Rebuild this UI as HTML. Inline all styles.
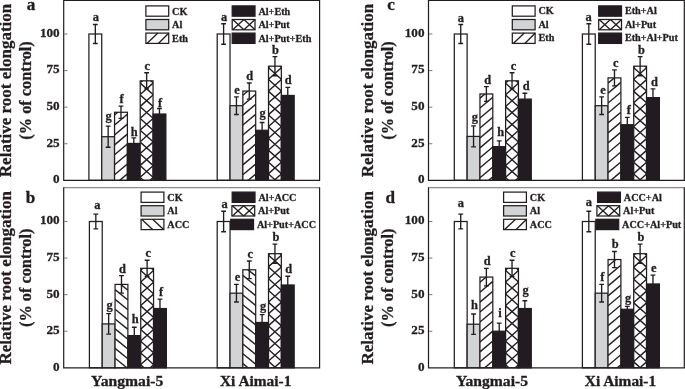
<!DOCTYPE html>
<html lang="en">
<head>
<meta charset="utf-8">
<title>Relative root elongation</title>
<style>
html,body{margin:0;padding:0;background:#fff;}
body{width:685px;height:389px;overflow:hidden;}
svg{display:block;will-change:transform;}
svg text{font-family:"Liberation Serif","DejaVu Serif",serif;font-weight:bold;fill:#231f20;stroke:#231f20;stroke-width:0.3px;}
</style>
</head>
<body>
<svg width="685" height="389" viewBox="0 0 685 389">
<defs><filter id="soft" x="0" y="0" width="685" height="389" filterUnits="userSpaceOnUse"><feGaussianBlur stdDeviation="0.38"/></filter></defs>
<g filter="url(#soft)">
<g id="panel-a">
<rect x="88.9" y="34" width="12.83" height="146.3" fill="#fff" stroke="#231f20" stroke-width="1.25"/>
<rect x="101.73" y="136.7" width="12.83" height="43.6" fill="#d1d3d4" stroke="#231f20" stroke-width="1.25"/>
<clipPath id="c1"><rect x="114.56" y="112.27" width="12.83" height="68.03"/></clipPath>
<rect x="114.56" y="112.27" width="12.83" height="68.03" fill="#fff"/>
<g clip-path="url(#c1)" stroke="#231f20" stroke-width="1.4" fill="none"><path d="M114.56 95.13L127.39 84.35"/><path d="M114.56 105.08L127.39 94.3"/><path d="M114.56 115.03L127.39 104.25"/><path d="M114.56 124.98L127.39 114.2"/><path d="M114.56 134.93L127.39 124.15"/><path d="M114.56 144.88L127.39 134.1"/><path d="M114.56 154.83L127.39 144.05"/><path d="M114.56 164.78L127.39 154"/><path d="M114.56 174.73L127.39 163.95"/><path d="M114.56 184.68L127.39 173.9"/><path d="M114.56 194.63L127.39 183.85"/><path d="M114.56 204.58L127.39 193.8"/><path d="M114.56 214.53L127.39 203.75"/></g>
<rect x="114.56" y="112.27" width="12.83" height="68.03" fill="none" stroke="#231f20" stroke-width="1.25"/>
<rect x="127.39" y="143.43" width="12.83" height="36.87" fill="#231f20" stroke="#231f20" stroke-width="1.25"/>
<clipPath id="c2"><rect x="140.22" y="80.82" width="12.83" height="99.48"/></clipPath>
<rect x="140.22" y="80.82" width="12.83" height="99.48" fill="#fff"/>
<g clip-path="url(#c2)" stroke="#231f20" stroke-width="1.4" fill="none"><path d="M140.22 59.16L153.05 47.74M140.22 47.74L153.05 59.16"/><path d="M140.22 70.96L153.05 59.54M140.22 59.54L153.05 70.96"/><path d="M140.22 82.76L153.05 71.34M140.22 71.34L153.05 82.76"/><path d="M140.22 94.56L153.05 83.14M140.22 83.14L153.05 94.56"/><path d="M140.22 106.36L153.05 94.94M140.22 94.94L153.05 106.36"/><path d="M140.22 118.16L153.05 106.74M140.22 106.74L153.05 118.16"/><path d="M140.22 129.96L153.05 118.54M140.22 118.54L153.05 129.96"/><path d="M140.22 141.76L153.05 130.34M140.22 130.34L153.05 141.76"/><path d="M140.22 153.56L153.05 142.14M140.22 142.14L153.05 153.56"/><path d="M140.22 165.36L153.05 153.94M140.22 153.94L153.05 165.36"/><path d="M140.22 177.16L153.05 165.74M140.22 165.74L153.05 177.16"/><path d="M140.22 188.96L153.05 177.54M140.22 177.54L153.05 188.96"/><path d="M140.22 200.76L153.05 189.34M140.22 189.34L153.05 200.76"/><path d="M140.22 212.56L153.05 201.14M140.22 201.14L153.05 212.56"/></g>
<rect x="140.22" y="80.82" width="12.83" height="99.48" fill="none" stroke="#231f20" stroke-width="1.25"/>
<rect x="153.05" y="114.03" width="12.83" height="66.27" fill="#231f20" stroke="#231f20" stroke-width="1.25"/>
<path d="M95.32 24.49V43.51M92.92 24.49H97.72M92.92 43.51H97.72" stroke="#231f20" stroke-width="1.35" fill="none"/>
<text x="95.82" y="21.49" font-size="12.4" text-anchor="middle">a</text>
<path d="M108.15 126.17V147.24M105.75 126.17H110.55M105.75 147.24H110.55" stroke="#231f20" stroke-width="1.35" fill="none"/>
<text x="108.65" y="120.17" font-size="12.4" text-anchor="middle">g</text>
<path d="M120.98 106.13V118.42M118.58 106.13H123.38M118.58 118.42H123.38" stroke="#231f20" stroke-width="1.35" fill="none"/>
<text x="121.48" y="102.73" font-size="12.4" text-anchor="middle">f</text>
<path d="M133.81 137.87V148.99M131.41 137.87H136.21M131.41 148.99H136.21" stroke="#231f20" stroke-width="1.35" fill="none"/>
<text x="134.31" y="135.87" font-size="12.4" text-anchor="middle">h</text>
<path d="M146.63 72.77V88.86M144.23 72.77H149.03M144.23 88.86H149.03" stroke="#231f20" stroke-width="1.35" fill="none"/>
<text x="147.13" y="69.77" font-size="12.4" text-anchor="middle">c</text>
<path d="M159.47 108.47V119.59M157.06 108.47H161.87M157.06 119.59H161.87" stroke="#231f20" stroke-width="1.35" fill="none"/>
<text x="159.97" y="106.87" font-size="12.4" text-anchor="middle">f</text>
<rect x="217.2" y="34" width="12.83" height="146.3" fill="#fff" stroke="#231f20" stroke-width="1.25"/>
<rect x="230.03" y="105.69" width="12.83" height="74.61" fill="#d1d3d4" stroke="#231f20" stroke-width="1.25"/>
<clipPath id="c3"><rect x="242.86" y="91.06" width="12.83" height="89.24"/></clipPath>
<rect x="242.86" y="91.06" width="12.83" height="89.24" fill="#fff"/>
<g clip-path="url(#c3)" stroke="#231f20" stroke-width="1.4" fill="none"><path d="M242.86 75.33L255.69 64.55"/><path d="M242.86 85.28L255.69 74.5"/><path d="M242.86 95.23L255.69 84.45"/><path d="M242.86 105.18L255.69 94.4"/><path d="M242.86 115.13L255.69 104.35"/><path d="M242.86 125.08L255.69 114.3"/><path d="M242.86 135.03L255.69 124.25"/><path d="M242.86 144.98L255.69 134.2"/><path d="M242.86 154.93L255.69 144.15"/><path d="M242.86 164.88L255.69 154.1"/><path d="M242.86 174.83L255.69 164.05"/><path d="M242.86 184.78L255.69 174"/><path d="M242.86 194.73L255.69 183.95"/><path d="M242.86 204.68L255.69 193.9"/><path d="M242.86 214.63L255.69 203.85"/></g>
<rect x="242.86" y="91.06" width="12.83" height="89.24" fill="none" stroke="#231f20" stroke-width="1.25"/>
<rect x="255.69" y="130.27" width="12.83" height="50.03" fill="#231f20" stroke="#231f20" stroke-width="1.25"/>
<clipPath id="c4"><rect x="268.52" y="66.19" width="12.83" height="114.11"/></clipPath>
<rect x="268.52" y="66.19" width="12.83" height="114.11" fill="#fff"/>
<g clip-path="url(#c4)" stroke="#231f20" stroke-width="1.4" fill="none"><path d="M268.52 43.81L281.35 32.39M268.52 32.39L281.35 43.81"/><path d="M268.52 55.61L281.35 44.19M268.52 44.19L281.35 55.61"/><path d="M268.52 67.41L281.35 55.99M268.52 55.99L281.35 67.41"/><path d="M268.52 79.21L281.35 67.79M268.52 67.79L281.35 79.21"/><path d="M268.52 91.01L281.35 79.59M268.52 79.59L281.35 91.01"/><path d="M268.52 102.81L281.35 91.39M268.52 91.39L281.35 102.81"/><path d="M268.52 114.61L281.35 103.19M268.52 103.19L281.35 114.61"/><path d="M268.52 126.41L281.35 114.99M268.52 114.99L281.35 126.41"/><path d="M268.52 138.21L281.35 126.79M268.52 126.79L281.35 138.21"/><path d="M268.52 150.01L281.35 138.59M268.52 138.59L281.35 150.01"/><path d="M268.52 161.81L281.35 150.39M268.52 150.39L281.35 161.81"/><path d="M268.52 173.61L281.35 162.19M268.52 162.19L281.35 173.61"/><path d="M268.52 185.41L281.35 173.99M268.52 173.99L281.35 185.41"/><path d="M268.52 197.21L281.35 185.79M268.52 185.79L281.35 197.21"/><path d="M268.52 209.01L281.35 197.59M268.52 197.59L281.35 209.01"/><path d="M268.52 220.81L281.35 209.39M268.52 209.39L281.35 220.81"/></g>
<rect x="268.52" y="66.19" width="12.83" height="114.11" fill="none" stroke="#231f20" stroke-width="1.25"/>
<rect x="281.35" y="95.45" width="12.83" height="84.85" fill="#231f20" stroke="#231f20" stroke-width="1.25"/>
<path d="M223.61 23.76V44.24M221.21 23.76H226.01M221.21 44.24H226.01" stroke="#231f20" stroke-width="1.35" fill="none"/>
<text x="224.11" y="20.76" font-size="12.4" text-anchor="middle">a</text>
<path d="M236.44 96.91V114.47M234.04 96.91H238.84M234.04 114.47H238.84" stroke="#231f20" stroke-width="1.35" fill="none"/>
<text x="236.94" y="93.91" font-size="12.4" text-anchor="middle">e</text>
<path d="M249.27 83.01V99.1M246.87 83.01H251.67M246.87 99.1H251.67" stroke="#231f20" stroke-width="1.35" fill="none"/>
<text x="249.77" y="80.01" font-size="12.4" text-anchor="middle">d</text>
<path d="M262.11 122.51V138.02M259.71 122.51H264.5M259.71 138.02H264.5" stroke="#231f20" stroke-width="1.35" fill="none"/>
<text x="262.61" y="116.71" font-size="12.4" text-anchor="middle">g</text>
<path d="M274.94 56.68V75.7M272.54 56.68H277.33M272.54 75.7H277.33" stroke="#231f20" stroke-width="1.35" fill="none"/>
<text x="275.44" y="53.68" font-size="12.4" text-anchor="middle">b</text>
<path d="M287.77 87.4V103.49M285.37 87.4H290.17M285.37 103.49H290.17" stroke="#231f20" stroke-width="1.35" fill="none"/>
<text x="288.27" y="84.4" font-size="12.4" text-anchor="middle">d</text>
<path d="M63.7 0.3H319.6" stroke="#231f20" stroke-width="1.25" fill="none"/>
<path d="M63.7 0V180.3H319.6V0" stroke="#231f20" stroke-width="1.2" fill="none" stroke-linejoin="miter"/>
<text transform="translate(59.7 183.2) scale(1.045 1)" font-size="12.6" text-anchor="end">0</text>
<path d="M64.2 143.73H67.5" stroke="#555" stroke-width="0.8"/>
<text transform="translate(59.7 146.63) scale(1.045 1)" font-size="12.6" text-anchor="end">25</text>
<path d="M64.2 107.15H67.5" stroke="#555" stroke-width="0.8"/>
<text transform="translate(59.7 110.05) scale(1.045 1)" font-size="12.6" text-anchor="end">50</text>
<path d="M64.2 70.58H67.5" stroke="#555" stroke-width="0.8"/>
<text transform="translate(59.7 73.48) scale(1.045 1)" font-size="12.6" text-anchor="end">75</text>
<path d="M64.2 34H67.5" stroke="#555" stroke-width="0.8"/>
<text transform="translate(59.7 36.9) scale(1.045 1)" font-size="12.6" text-anchor="end">100</text>
<text transform="translate(26.7 9.5) scale(1.060 1)" font-size="16.2" text-anchor="start">a</text>
<text transform="translate(11.1 90.45) rotate(-90)" font-size="17" text-anchor="middle">Relative root elongation</text>
<text transform="translate(31.4 90.45) rotate(-90)" font-size="17" text-anchor="middle" textLength="98.5" lengthAdjust="spacingAndGlyphs">(% of control)</text>
<rect x="145.9" y="5.9" width="22.8" height="10.3" fill="#fff" stroke="#231f20" stroke-width="1.25"/>
<text x="172.1" y="14.6" font-size="10.2" text-anchor="start">CK</text>
<rect x="145.9" y="19.5" width="22.8" height="10.3" fill="#d1d3d4" stroke="#231f20" stroke-width="1.25"/>
<text x="172.1" y="28.2" font-size="10.2" text-anchor="start">Al</text>
<rect x="145.9" y="33.1" width="22.8" height="10.3" fill="#fff" stroke="#231f20" stroke-width="1.25"/>
<path d="M146.9 43.4L157.9 33.1M158.4 43.4L168.9 33.1" stroke="#231f20" stroke-width="1.35" fill="none"/>
<text x="172.1" y="41.8" font-size="10.2" text-anchor="start">Eth</text>
<rect x="232.2" y="5.9" width="22.8" height="10.3" fill="#231f20" stroke="#231f20" stroke-width="1.25"/>
<text x="258.4" y="14.6" font-size="10.2" text-anchor="start">Al+Eth</text>
<rect x="232.2" y="19.5" width="22.8" height="10.3" fill="#fff" stroke="#231f20" stroke-width="1.25"/>
<path d="M232.7 19.5L243.9 29.8M232.7 29.8L243.9 19.5M243.9 19.5L255.1 29.8M243.9 29.8L255.1 19.5" stroke="#231f20" stroke-width="1.35" fill="none"/>
<text x="258.4" y="28.2" font-size="10.2" text-anchor="start">Al+Put</text>
<rect x="232.2" y="33.1" width="22.8" height="10.3" fill="#231f20" stroke="#231f20" stroke-width="1.25"/>
<text x="258.4" y="41.8" font-size="10.2" text-anchor="start">Al+Put+Eth</text>
</g>
<g id="panel-b">
<rect x="89.4" y="221.5" width="12.83" height="146.3" fill="#fff" stroke="#231f20" stroke-width="1.25"/>
<rect x="102.23" y="323.91" width="12.83" height="43.89" fill="#d1d3d4" stroke="#231f20" stroke-width="1.25"/>
<clipPath id="c5"><rect x="115.06" y="284.41" width="12.83" height="83.39"/></clipPath>
<rect x="115.06" y="284.41" width="12.83" height="83.39" fill="#fff"/>
<g clip-path="url(#c5)" stroke="#231f20" stroke-width="1.4" fill="none"><path d="M115.06 260.2L127.89 270.59"/><path d="M115.06 270L127.89 280.39"/><path d="M115.06 279.8L127.89 290.19"/><path d="M115.06 289.6L127.89 299.99"/><path d="M115.06 299.4L127.89 309.79"/><path d="M115.06 309.2L127.89 319.59"/><path d="M115.06 319L127.89 329.39"/><path d="M115.06 328.8L127.89 339.19"/><path d="M115.06 338.6L127.89 348.99"/><path d="M115.06 348.4L127.89 358.79"/><path d="M115.06 358.2L127.89 368.59"/><path d="M115.06 368L127.89 378.39"/><path d="M115.06 377.8L127.89 388.19"/><path d="M115.06 387.6L127.89 397.99"/></g>
<rect x="115.06" y="284.41" width="12.83" height="83.39" fill="none" stroke="#231f20" stroke-width="1.25"/>
<rect x="127.89" y="335.61" width="12.83" height="32.19" fill="#231f20" stroke="#231f20" stroke-width="1.25"/>
<clipPath id="c6"><rect x="140.72" y="268.32" width="12.83" height="99.48"/></clipPath>
<rect x="140.72" y="268.32" width="12.83" height="99.48" fill="#fff"/>
<g clip-path="url(#c6)" stroke="#231f20" stroke-width="1.4" fill="none"><path d="M140.72 246.51L153.55 235.09M140.72 235.09L153.55 246.51"/><path d="M140.72 258.31L153.55 246.89M140.72 246.89L153.55 258.31"/><path d="M140.72 270.11L153.55 258.69M140.72 258.69L153.55 270.11"/><path d="M140.72 281.91L153.55 270.49M140.72 270.49L153.55 281.91"/><path d="M140.72 293.71L153.55 282.29M140.72 282.29L153.55 293.71"/><path d="M140.72 305.51L153.55 294.09M140.72 294.09L153.55 305.51"/><path d="M140.72 317.31L153.55 305.89M140.72 305.89L153.55 317.31"/><path d="M140.72 329.11L153.55 317.69M140.72 317.69L153.55 329.11"/><path d="M140.72 340.91L153.55 329.49M140.72 329.49L153.55 340.91"/><path d="M140.72 352.71L153.55 341.29M140.72 341.29L153.55 352.71"/><path d="M140.72 364.51L153.55 353.09M140.72 353.09L153.55 364.51"/><path d="M140.72 376.31L153.55 364.89M140.72 364.89L153.55 376.31"/><path d="M140.72 388.11L153.55 376.69M140.72 376.69L153.55 388.11"/><path d="M140.72 399.91L153.55 388.49M140.72 388.49L153.55 399.91"/></g>
<rect x="140.72" y="268.32" width="12.83" height="99.48" fill="none" stroke="#231f20" stroke-width="1.25"/>
<rect x="153.55" y="308.55" width="12.83" height="59.25" fill="#231f20" stroke="#231f20" stroke-width="1.25"/>
<path d="M95.82 214.19V228.81M93.42 214.19H98.22M93.42 228.81H98.22" stroke="#231f20" stroke-width="1.35" fill="none"/>
<text x="97.32" y="208.69" font-size="12.4" text-anchor="middle">a</text>
<path d="M108.65 313.67V334.15M106.25 313.67H111.05M106.25 334.15H111.05" stroke="#231f20" stroke-width="1.35" fill="none"/>
<text x="109.65" y="308.67" font-size="12.4" text-anchor="middle">g</text>
<path d="M121.48 275.63V293.19M119.08 275.63H123.88M119.08 293.19H123.88" stroke="#231f20" stroke-width="1.35" fill="none"/>
<text x="122.48" y="272.63" font-size="12.4" text-anchor="middle">d</text>
<path d="M134.31 327.2V344.03M131.91 327.2H136.71M131.91 344.03H136.71" stroke="#231f20" stroke-width="1.35" fill="none"/>
<text x="135.31" y="322.9" font-size="12.4" text-anchor="middle">h</text>
<path d="M147.13 260.27V276.36M144.73 260.27H149.53M144.73 276.36H149.53" stroke="#231f20" stroke-width="1.35" fill="none"/>
<text x="148.13" y="257.27" font-size="12.4" text-anchor="middle">c</text>
<path d="M159.97 299.19V317.91M157.56 299.19H162.37M157.56 317.91H162.37" stroke="#231f20" stroke-width="1.35" fill="none"/>
<text x="160.97" y="296.19" font-size="12.4" text-anchor="middle">f</text>
<rect x="217.2" y="221.5" width="12.83" height="146.3" fill="#fff" stroke="#231f20" stroke-width="1.25"/>
<rect x="230.03" y="293.19" width="12.83" height="74.61" fill="#d1d3d4" stroke="#231f20" stroke-width="1.25"/>
<clipPath id="c7"><rect x="242.86" y="269.78" width="12.83" height="98.02"/></clipPath>
<rect x="242.86" y="269.78" width="12.83" height="98.02" fill="#fff"/>
<g clip-path="url(#c7)" stroke="#231f20" stroke-width="1.4" fill="none"><path d="M242.86 246L255.69 256.39"/><path d="M242.86 255.8L255.69 266.19"/><path d="M242.86 265.6L255.69 275.99"/><path d="M242.86 275.4L255.69 285.79"/><path d="M242.86 285.2L255.69 295.59"/><path d="M242.86 295L255.69 305.39"/><path d="M242.86 304.8L255.69 315.19"/><path d="M242.86 314.6L255.69 324.99"/><path d="M242.86 324.4L255.69 334.79"/><path d="M242.86 334.2L255.69 344.59"/><path d="M242.86 344L255.69 354.39"/><path d="M242.86 353.8L255.69 364.19"/><path d="M242.86 363.6L255.69 373.99"/><path d="M242.86 373.4L255.69 383.79"/><path d="M242.86 383.2L255.69 393.59"/><path d="M242.86 393L255.69 403.39"/></g>
<rect x="242.86" y="269.78" width="12.83" height="98.02" fill="none" stroke="#231f20" stroke-width="1.25"/>
<rect x="255.69" y="322.45" width="12.83" height="45.35" fill="#231f20" stroke="#231f20" stroke-width="1.25"/>
<clipPath id="c8"><rect x="268.52" y="253.69" width="12.83" height="114.11"/></clipPath>
<rect x="268.52" y="253.69" width="12.83" height="114.11" fill="#fff"/>
<g clip-path="url(#c8)" stroke="#231f20" stroke-width="1.4" fill="none"><path d="M268.52 231.21L281.35 219.79M268.52 219.79L281.35 231.21"/><path d="M268.52 243.01L281.35 231.59M268.52 231.59L281.35 243.01"/><path d="M268.52 254.81L281.35 243.39M268.52 243.39L281.35 254.81"/><path d="M268.52 266.61L281.35 255.19M268.52 255.19L281.35 266.61"/><path d="M268.52 278.41L281.35 266.99M268.52 266.99L281.35 278.41"/><path d="M268.52 290.21L281.35 278.79M268.52 278.79L281.35 290.21"/><path d="M268.52 302.01L281.35 290.59M268.52 290.59L281.35 302.01"/><path d="M268.52 313.81L281.35 302.39M268.52 302.39L281.35 313.81"/><path d="M268.52 325.61L281.35 314.19M268.52 314.19L281.35 325.61"/><path d="M268.52 337.41L281.35 325.99M268.52 325.99L281.35 337.41"/><path d="M268.52 349.21L281.35 337.79M268.52 337.79L281.35 349.21"/><path d="M268.52 361.01L281.35 349.59M268.52 349.59L281.35 361.01"/><path d="M268.52 372.81L281.35 361.39M268.52 361.39L281.35 372.81"/><path d="M268.52 384.61L281.35 373.19M268.52 373.19L281.35 384.61"/><path d="M268.52 396.41L281.35 384.99M268.52 384.99L281.35 396.41"/><path d="M268.52 408.21L281.35 396.79M268.52 396.79L281.35 408.21"/></g>
<rect x="268.52" y="253.69" width="12.83" height="114.11" fill="none" stroke="#231f20" stroke-width="1.25"/>
<rect x="281.35" y="284.99" width="12.83" height="82.81" fill="#231f20" stroke="#231f20" stroke-width="1.25"/>
<path d="M223.61 211.26V231.74M221.21 211.26H226.01M221.21 231.74H226.01" stroke="#231f20" stroke-width="1.35" fill="none"/>
<text x="224.61" y="207.66" font-size="12.4" text-anchor="middle">a</text>
<path d="M236.44 284.41V301.97M234.04 284.41H238.84M234.04 301.97H238.84" stroke="#231f20" stroke-width="1.35" fill="none"/>
<text x="237.44" y="281.41" font-size="12.4" text-anchor="middle">e</text>
<path d="M249.27 261V278.56M246.87 261H251.67M246.87 278.56H251.67" stroke="#231f20" stroke-width="1.35" fill="none"/>
<text x="250.27" y="258" font-size="12.4" text-anchor="middle">c</text>
<path d="M262.11 314.69V330.2M259.71 314.69H264.5M259.71 330.2H264.5" stroke="#231f20" stroke-width="1.35" fill="none"/>
<text x="263.11" y="310.19" font-size="12.4" text-anchor="middle">g</text>
<path d="M274.94 244.18V263.2M272.54 244.18H277.33M272.54 263.2H277.33" stroke="#231f20" stroke-width="1.35" fill="none"/>
<text x="275.94" y="241.18" font-size="12.4" text-anchor="middle">b</text>
<path d="M287.77 276.22V293.77M285.37 276.22H290.17M285.37 293.77H290.17" stroke="#231f20" stroke-width="1.35" fill="none"/>
<text x="288.77" y="273.22" font-size="12.4" text-anchor="middle">d</text>
<path d="M63.7 187.6H319.6" stroke="#8a8a8a" stroke-width="1.3" fill="none"/>
<path d="M63.7 187.2V367.8H319.6V187.2" stroke="#231f20" stroke-width="1.2" fill="none" stroke-linejoin="miter"/>
<text transform="translate(59.7 370.7) scale(1.045 1)" font-size="12.6" text-anchor="end">0</text>
<path d="M64.2 331.23H67.5" stroke="#555" stroke-width="0.8"/>
<text transform="translate(59.7 334.12) scale(1.045 1)" font-size="12.6" text-anchor="end">25</text>
<path d="M64.2 294.65H67.5" stroke="#555" stroke-width="0.8"/>
<text transform="translate(59.7 297.55) scale(1.045 1)" font-size="12.6" text-anchor="end">50</text>
<path d="M64.2 258.07H67.5" stroke="#555" stroke-width="0.8"/>
<text transform="translate(59.7 260.97) scale(1.045 1)" font-size="12.6" text-anchor="end">75</text>
<path d="M64.2 221.5H67.5" stroke="#555" stroke-width="0.8"/>
<text transform="translate(59.7 224.4) scale(1.045 1)" font-size="12.6" text-anchor="end">100</text>
<text transform="translate(25.8 202.7) scale(1.060 1)" font-size="16.2" text-anchor="start">b</text>
<text transform="translate(11.1 277.8) rotate(-90)" font-size="17" text-anchor="middle">Relative root elongation</text>
<text transform="translate(31.4 277.8) rotate(-90)" font-size="17" text-anchor="middle" textLength="98.5" lengthAdjust="spacingAndGlyphs">(% of control)</text>
<rect x="141.1" y="192.1" width="22.8" height="10.3" fill="#fff" stroke="#231f20" stroke-width="1.25"/>
<text x="167.3" y="200.8" font-size="10.2" text-anchor="start">CK</text>
<rect x="141.1" y="205.7" width="22.8" height="10.3" fill="#d1d3d4" stroke="#231f20" stroke-width="1.25"/>
<text x="167.3" y="214.4" font-size="10.2" text-anchor="start">Al</text>
<rect x="141.1" y="219.3" width="22.8" height="10.3" fill="#fff" stroke="#231f20" stroke-width="1.25"/>
<path d="M141.6 219.3L152.6 229.6M152.6 219.3L163.6 229.6" stroke="#231f20" stroke-width="1.35" fill="none"/>
<text x="167.3" y="228" font-size="10.2" text-anchor="start">ACC</text>
<rect x="232.2" y="192.1" width="22.8" height="10.3" fill="#231f20" stroke="#231f20" stroke-width="1.25"/>
<text x="258.4" y="200.8" font-size="10.2" text-anchor="start">Al+ACC</text>
<rect x="231.9" y="205.7" width="22.8" height="10.3" fill="#fff" stroke="#231f20" stroke-width="1.25"/>
<path d="M232.4 205.7L243.6 216M232.4 216L243.6 205.7M243.6 205.7L254.8 216M243.6 216L254.8 205.7" stroke="#231f20" stroke-width="1.35" fill="none"/>
<text x="258.1" y="214.4" font-size="10.2" text-anchor="start">Al+Put</text>
<rect x="230.7" y="219.3" width="22.8" height="10.3" fill="#231f20" stroke="#231f20" stroke-width="1.25"/>
<text x="256.9" y="228" font-size="10.2" text-anchor="start">Al+Put+ACC</text>
<text transform="translate(127.19 385.7) scale(1.134 1)" font-size="13.8" text-anchor="middle">Yangmai-5</text>
<text transform="translate(255.69 385.7) scale(1.115 1)" font-size="13.8" text-anchor="middle">Xi Aimai-1</text>
</g>
<g id="panel-c">
<rect x="454.3" y="34" width="12.83" height="146.3" fill="#fff" stroke="#231f20" stroke-width="1.25"/>
<rect x="467.13" y="136.41" width="12.83" height="43.89" fill="#d1d3d4" stroke="#231f20" stroke-width="1.25"/>
<clipPath id="c9"><rect x="479.96" y="93.98" width="12.83" height="86.32"/></clipPath>
<rect x="479.96" y="93.98" width="12.83" height="86.32" fill="#fff"/>
<g clip-path="url(#c9)" stroke="#231f20" stroke-width="1.4" fill="none"><path d="M479.96 78.23L492.79 67.45"/><path d="M479.96 88.18L492.79 77.4"/><path d="M479.96 98.13L492.79 87.35"/><path d="M479.96 108.08L492.79 97.3"/><path d="M479.96 118.03L492.79 107.25"/><path d="M479.96 127.98L492.79 117.2"/><path d="M479.96 137.93L492.79 127.15"/><path d="M479.96 147.88L492.79 137.1"/><path d="M479.96 157.83L492.79 147.05"/><path d="M479.96 167.78L492.79 157"/><path d="M479.96 177.73L492.79 166.95"/><path d="M479.96 187.68L492.79 176.9"/><path d="M479.96 197.63L492.79 186.85"/><path d="M479.96 207.58L492.79 196.8"/><path d="M479.96 217.53L492.79 206.75"/></g>
<rect x="479.96" y="93.98" width="12.83" height="86.32" fill="none" stroke="#231f20" stroke-width="1.25"/>
<rect x="492.79" y="146.65" width="12.83" height="33.65" fill="#231f20" stroke="#231f20" stroke-width="1.25"/>
<clipPath id="c10"><rect x="505.62" y="80.82" width="12.83" height="99.48"/></clipPath>
<rect x="505.62" y="80.82" width="12.83" height="99.48" fill="#fff"/>
<g clip-path="url(#c10)" stroke="#231f20" stroke-width="1.4" fill="none"><path d="M505.62 59.31L518.45 47.89M505.62 47.89L518.45 59.31"/><path d="M505.62 71.11L518.45 59.69M505.62 59.69L518.45 71.11"/><path d="M505.62 82.91L518.45 71.49M505.62 71.49L518.45 82.91"/><path d="M505.62 94.71L518.45 83.29M505.62 83.29L518.45 94.71"/><path d="M505.62 106.51L518.45 95.09M505.62 95.09L518.45 106.51"/><path d="M505.62 118.31L518.45 106.89M505.62 106.89L518.45 118.31"/><path d="M505.62 130.11L518.45 118.69M505.62 118.69L518.45 130.11"/><path d="M505.62 141.91L518.45 130.49M505.62 130.49L518.45 141.91"/><path d="M505.62 153.71L518.45 142.29M505.62 142.29L518.45 153.71"/><path d="M505.62 165.51L518.45 154.09M505.62 154.09L518.45 165.51"/><path d="M505.62 177.31L518.45 165.89M505.62 165.89L518.45 177.31"/><path d="M505.62 189.11L518.45 177.69M505.62 177.69L518.45 189.11"/><path d="M505.62 200.91L518.45 189.49M505.62 189.49L518.45 200.91"/><path d="M505.62 212.71L518.45 201.29M505.62 201.29L518.45 212.71"/></g>
<rect x="505.62" y="80.82" width="12.83" height="99.48" fill="none" stroke="#231f20" stroke-width="1.25"/>
<rect x="518.45" y="99.1" width="12.83" height="81.2" fill="#231f20" stroke="#231f20" stroke-width="1.25"/>
<path d="M460.72 24.49V43.51M458.32 24.49H463.12M458.32 43.51H463.12" stroke="#231f20" stroke-width="1.35" fill="none"/>
<text x="460.81" y="22.49" font-size="12.4" text-anchor="middle">a</text>
<path d="M473.55 125.88V146.94M471.15 125.88H475.94M471.15 146.94H475.94" stroke="#231f20" stroke-width="1.35" fill="none"/>
<text x="474.94" y="121.38" font-size="12.4" text-anchor="middle">g</text>
<path d="M486.38 86.67V101.3M483.98 86.67H488.78M483.98 101.3H488.78" stroke="#231f20" stroke-width="1.35" fill="none"/>
<text x="487.78" y="83.67" font-size="12.4" text-anchor="middle">d</text>
<path d="M499.21 140.8V152.5M496.81 140.8H501.61M496.81 152.5H501.61" stroke="#231f20" stroke-width="1.35" fill="none"/>
<text x="500.61" y="136.1" font-size="12.4" text-anchor="middle">h</text>
<path d="M512.03 72.77V88.86M509.63 72.77H514.43M509.63 88.86H514.43" stroke="#231f20" stroke-width="1.35" fill="none"/>
<text x="513.43" y="70.47" font-size="12.4" text-anchor="middle">c</text>
<path d="M524.87 93.25V104.96M522.47 93.25H527.26M522.47 104.96H527.26" stroke="#231f20" stroke-width="1.35" fill="none"/>
<text x="526.26" y="90.25" font-size="12.4" text-anchor="middle">d</text>
<rect x="582.4" y="34" width="12.83" height="146.3" fill="#fff" stroke="#231f20" stroke-width="1.25"/>
<rect x="595.23" y="105.69" width="12.83" height="74.61" fill="#d1d3d4" stroke="#231f20" stroke-width="1.25"/>
<clipPath id="c11"><rect x="608.06" y="77.89" width="12.83" height="102.41"/></clipPath>
<rect x="608.06" y="77.89" width="12.83" height="102.41" fill="#fff"/>
<g clip-path="url(#c11)" stroke="#231f20" stroke-width="1.4" fill="none"><path d="M608.06 63.28L620.89 52.5"/><path d="M608.06 73.23L620.89 62.45"/><path d="M608.06 83.18L620.89 72.4"/><path d="M608.06 93.13L620.89 82.35"/><path d="M608.06 103.08L620.89 92.3"/><path d="M608.06 113.03L620.89 102.25"/><path d="M608.06 122.98L620.89 112.2"/><path d="M608.06 132.93L620.89 122.15"/><path d="M608.06 142.88L620.89 132.1"/><path d="M608.06 152.83L620.89 142.05"/><path d="M608.06 162.78L620.89 152"/><path d="M608.06 172.73L620.89 161.95"/><path d="M608.06 182.68L620.89 171.9"/><path d="M608.06 192.63L620.89 181.85"/><path d="M608.06 202.58L620.89 191.8"/><path d="M608.06 212.53L620.89 201.75"/></g>
<rect x="608.06" y="77.89" width="12.83" height="102.41" fill="none" stroke="#231f20" stroke-width="1.25"/>
<rect x="620.89" y="124.71" width="12.83" height="55.59" fill="#231f20" stroke="#231f20" stroke-width="1.25"/>
<clipPath id="c12"><rect x="633.72" y="66.19" width="12.83" height="114.11"/></clipPath>
<rect x="633.72" y="66.19" width="12.83" height="114.11" fill="#fff"/>
<g clip-path="url(#c12)" stroke="#231f20" stroke-width="1.4" fill="none"><path d="M633.72 43.81L646.55 32.39M633.72 32.39L646.55 43.81"/><path d="M633.72 55.61L646.55 44.19M633.72 44.19L646.55 55.61"/><path d="M633.72 67.41L646.55 55.99M633.72 55.99L646.55 67.41"/><path d="M633.72 79.21L646.55 67.79M633.72 67.79L646.55 79.21"/><path d="M633.72 91.01L646.55 79.59M633.72 79.59L646.55 91.01"/><path d="M633.72 102.81L646.55 91.39M633.72 91.39L646.55 102.81"/><path d="M633.72 114.61L646.55 103.19M633.72 103.19L646.55 114.61"/><path d="M633.72 126.41L646.55 114.99M633.72 114.99L646.55 126.41"/><path d="M633.72 138.21L646.55 126.79M633.72 126.79L646.55 138.21"/><path d="M633.72 150.01L646.55 138.59M633.72 138.59L646.55 150.01"/><path d="M633.72 161.81L646.55 150.39M633.72 150.39L646.55 161.81"/><path d="M633.72 173.61L646.55 162.19M633.72 162.19L646.55 173.61"/><path d="M633.72 185.41L646.55 173.99M633.72 173.99L646.55 185.41"/><path d="M633.72 197.21L646.55 185.79M633.72 185.79L646.55 197.21"/><path d="M633.72 209.01L646.55 197.59M633.72 197.59L646.55 209.01"/><path d="M633.72 220.81L646.55 209.39M633.72 209.39L646.55 220.81"/></g>
<rect x="633.72" y="66.19" width="12.83" height="114.11" fill="none" stroke="#231f20" stroke-width="1.25"/>
<rect x="646.55" y="97.64" width="12.83" height="82.66" fill="#231f20" stroke="#231f20" stroke-width="1.25"/>
<path d="M588.81 23.76V44.24M586.41 23.76H591.21M586.41 44.24H591.21" stroke="#231f20" stroke-width="1.35" fill="none"/>
<text x="588.71" y="21.36" font-size="12.4" text-anchor="middle">a</text>
<path d="M601.64 96.91V114.47M599.25 96.91H604.04M599.25 114.47H604.04" stroke="#231f20" stroke-width="1.35" fill="none"/>
<text x="603.04" y="93.91" font-size="12.4" text-anchor="middle">e</text>
<path d="M614.47 69.84V85.94M612.07 69.84H616.87M612.07 85.94H616.87" stroke="#231f20" stroke-width="1.35" fill="none"/>
<text x="615.87" y="66.84" font-size="12.4" text-anchor="middle">c</text>
<path d="M627.3 117.39V132.02M624.9 117.39H629.7M624.9 132.02H629.7" stroke="#231f20" stroke-width="1.35" fill="none"/>
<text x="628.7" y="114.39" font-size="12.4" text-anchor="middle">f</text>
<path d="M640.13 56.68V75.7M637.74 56.68H642.53M637.74 75.7H642.53" stroke="#231f20" stroke-width="1.35" fill="none"/>
<text x="641.53" y="53.68" font-size="12.4" text-anchor="middle">b</text>
<path d="M652.96 88.86V106.42M650.56 88.86H655.36M650.56 106.42H655.36" stroke="#231f20" stroke-width="1.35" fill="none"/>
<text x="654.36" y="85.86" font-size="12.4" text-anchor="middle">d</text>
<path d="M428.5 0.3H684.3" stroke="#231f20" stroke-width="1.25" fill="none"/>
<path d="M428.5 0V180.3H684.3V0" stroke="#231f20" stroke-width="1.2" fill="none" stroke-linejoin="miter"/>
<text transform="translate(424.5 183.2) scale(1.045 1)" font-size="12.6" text-anchor="end">0</text>
<path d="M429 143.73H432.3" stroke="#555" stroke-width="0.8"/>
<text transform="translate(424.5 146.63) scale(1.045 1)" font-size="12.6" text-anchor="end">25</text>
<path d="M429 107.15H432.3" stroke="#555" stroke-width="0.8"/>
<text transform="translate(424.5 110.05) scale(1.045 1)" font-size="12.6" text-anchor="end">50</text>
<path d="M429 70.58H432.3" stroke="#555" stroke-width="0.8"/>
<text transform="translate(424.5 73.48) scale(1.045 1)" font-size="12.6" text-anchor="end">75</text>
<path d="M429 34H432.3" stroke="#555" stroke-width="0.8"/>
<text transform="translate(424.5 36.9) scale(1.045 1)" font-size="12.6" text-anchor="end">100</text>
<text transform="translate(387.3 9.5) scale(1.060 1)" font-size="16.2" text-anchor="start">c</text>
<text transform="translate(372.9 90.45) rotate(-90)" font-size="17" text-anchor="middle">Relative root elongation</text>
<text transform="translate(393.2 90.45) rotate(-90)" font-size="17" text-anchor="middle" textLength="98.5" lengthAdjust="spacingAndGlyphs">(% of control)</text>
<rect x="512.3" y="5.9" width="22.8" height="10.3" fill="#fff" stroke="#231f20" stroke-width="1.25"/>
<text x="538.5" y="13.9" font-size="10.2" text-anchor="start">CK</text>
<rect x="512.3" y="19.5" width="22.8" height="10.3" fill="#d1d3d4" stroke="#231f20" stroke-width="1.25"/>
<text x="538.5" y="27.5" font-size="10.2" text-anchor="start">Al</text>
<rect x="512.3" y="33.1" width="22.8" height="10.3" fill="#fff" stroke="#231f20" stroke-width="1.25"/>
<path d="M513.3 43.4L524.3 33.1M524.8 43.4L535.3 33.1" stroke="#231f20" stroke-width="1.35" fill="none"/>
<text x="538.5" y="41.1" font-size="10.2" text-anchor="start">Eth</text>
<rect x="598.7" y="5.9" width="22.8" height="10.3" fill="#231f20" stroke="#231f20" stroke-width="1.25"/>
<text x="624.9" y="13.9" font-size="10.2" text-anchor="start">Eth+Al</text>
<rect x="598.7" y="19.5" width="22.8" height="10.3" fill="#fff" stroke="#231f20" stroke-width="1.25"/>
<path d="M599.2 19.5L610.4 29.8M599.2 29.8L610.4 19.5M610.4 19.5L621.6 29.8M610.4 29.8L621.6 19.5" stroke="#231f20" stroke-width="1.35" fill="none"/>
<text x="624.9" y="27.5" font-size="10.2" text-anchor="start">Al+Put</text>
<rect x="598.7" y="33.1" width="22.8" height="10.3" fill="#231f20" stroke="#231f20" stroke-width="1.25"/>
<text x="624.9" y="41.1" font-size="10.2" text-anchor="start">Eth+Al+Put</text>
</g>
<g id="panel-d">
<rect x="454.3" y="221.5" width="12.83" height="146.3" fill="#fff" stroke="#231f20" stroke-width="1.25"/>
<rect x="467.13" y="324.2" width="12.83" height="43.6" fill="#d1d3d4" stroke="#231f20" stroke-width="1.25"/>
<clipPath id="c13"><rect x="479.96" y="277.09" width="12.83" height="90.71"/></clipPath>
<rect x="479.96" y="277.09" width="12.83" height="90.71" fill="#fff"/>
<g clip-path="url(#c13)" stroke="#231f20" stroke-width="1.4" fill="none"><path d="M479.96 262.33L492.79 251.55"/><path d="M479.96 272.28L492.79 261.5"/><path d="M479.96 282.23L492.79 271.45"/><path d="M479.96 292.18L492.79 281.4"/><path d="M479.96 302.13L492.79 291.35"/><path d="M479.96 312.08L492.79 301.3"/><path d="M479.96 322.03L492.79 311.25"/><path d="M479.96 331.98L492.79 321.2"/><path d="M479.96 341.93L492.79 331.15"/><path d="M479.96 351.88L492.79 341.1"/><path d="M479.96 361.83L492.79 351.05"/><path d="M479.96 371.78L492.79 361"/><path d="M479.96 381.73L492.79 370.95"/><path d="M479.96 391.68L492.79 380.9"/><path d="M479.96 401.63L492.79 390.85"/></g>
<rect x="479.96" y="277.09" width="12.83" height="90.71" fill="none" stroke="#231f20" stroke-width="1.25"/>
<rect x="492.79" y="331.23" width="12.83" height="36.57" fill="#231f20" stroke="#231f20" stroke-width="1.25"/>
<clipPath id="c14"><rect x="505.62" y="268.32" width="12.83" height="99.48"/></clipPath>
<rect x="505.62" y="268.32" width="12.83" height="99.48" fill="#fff"/>
<g clip-path="url(#c14)" stroke="#231f20" stroke-width="1.4" fill="none"><path d="M505.62 246.51L518.45 235.09M505.62 235.09L518.45 246.51"/><path d="M505.62 258.31L518.45 246.89M505.62 246.89L518.45 258.31"/><path d="M505.62 270.11L518.45 258.69M505.62 258.69L518.45 270.11"/><path d="M505.62 281.91L518.45 270.49M505.62 270.49L518.45 281.91"/><path d="M505.62 293.71L518.45 282.29M505.62 282.29L518.45 293.71"/><path d="M505.62 305.51L518.45 294.09M505.62 294.09L518.45 305.51"/><path d="M505.62 317.31L518.45 305.89M505.62 305.89L518.45 317.31"/><path d="M505.62 329.11L518.45 317.69M505.62 317.69L518.45 329.11"/><path d="M505.62 340.91L518.45 329.49M505.62 329.49L518.45 340.91"/><path d="M505.62 352.71L518.45 341.29M505.62 341.29L518.45 352.71"/><path d="M505.62 364.51L518.45 353.09M505.62 353.09L518.45 364.51"/><path d="M505.62 376.31L518.45 364.89M505.62 364.89L518.45 376.31"/><path d="M505.62 388.11L518.45 376.69M505.62 376.69L518.45 388.11"/><path d="M505.62 399.91L518.45 388.49M505.62 388.49L518.45 399.91"/></g>
<rect x="505.62" y="268.32" width="12.83" height="99.48" fill="none" stroke="#231f20" stroke-width="1.25"/>
<rect x="518.45" y="308.55" width="12.83" height="59.25" fill="#231f20" stroke="#231f20" stroke-width="1.25"/>
<path d="M460.72 214.19V228.81M458.32 214.19H463.12M458.32 228.81H463.12" stroke="#231f20" stroke-width="1.35" fill="none"/>
<text x="460.82" y="206.99" font-size="12.4" text-anchor="middle">a</text>
<path d="M473.55 313.96V334.44M471.15 313.96H475.94M471.15 334.44H475.94" stroke="#231f20" stroke-width="1.35" fill="none"/>
<text x="474.35" y="308.96" font-size="12.4" text-anchor="middle">h</text>
<path d="M486.38 268.32V285.87M483.98 268.32H488.78M483.98 285.87H488.78" stroke="#231f20" stroke-width="1.35" fill="none"/>
<text x="487.18" y="265.32" font-size="12.4" text-anchor="middle">d</text>
<path d="M499.21 323.18V339.27M496.81 323.18H501.61M496.81 339.27H501.61" stroke="#231f20" stroke-width="1.35" fill="none"/>
<text x="500.01" y="316.68" font-size="12.4" text-anchor="middle">i</text>
<path d="M512.03 260.27V276.36M509.63 260.27H514.43M509.63 276.36H514.43" stroke="#231f20" stroke-width="1.35" fill="none"/>
<text x="512.83" y="257.27" font-size="12.4" text-anchor="middle">c</text>
<path d="M524.87 300.79V316.3M522.47 300.79H527.26M522.47 316.3H527.26" stroke="#231f20" stroke-width="1.35" fill="none"/>
<text x="525.66" y="293.79" font-size="12.4" text-anchor="middle">g</text>
<rect x="582.4" y="221.5" width="12.83" height="146.3" fill="#fff" stroke="#231f20" stroke-width="1.25"/>
<rect x="595.23" y="293.19" width="12.83" height="74.61" fill="#d1d3d4" stroke="#231f20" stroke-width="1.25"/>
<clipPath id="c15"><rect x="608.06" y="259.54" width="12.83" height="108.26"/></clipPath>
<rect x="608.06" y="259.54" width="12.83" height="108.26" fill="#fff"/>
<g clip-path="url(#c15)" stroke="#231f20" stroke-width="1.4" fill="none"><path d="M608.06 246.13L620.89 235.35"/><path d="M608.06 256.08L620.89 245.3"/><path d="M608.06 266.03L620.89 255.25"/><path d="M608.06 275.98L620.89 265.2"/><path d="M608.06 285.93L620.89 275.15"/><path d="M608.06 295.88L620.89 285.1"/><path d="M608.06 305.83L620.89 295.05"/><path d="M608.06 315.78L620.89 305"/><path d="M608.06 325.73L620.89 314.95"/><path d="M608.06 335.68L620.89 324.9"/><path d="M608.06 345.63L620.89 334.85"/><path d="M608.06 355.58L620.89 344.8"/><path d="M608.06 365.53L620.89 354.75"/><path d="M608.06 375.48L620.89 364.7"/><path d="M608.06 385.43L620.89 374.65"/><path d="M608.06 395.38L620.89 384.6"/><path d="M608.06 405.33L620.89 394.55"/></g>
<rect x="608.06" y="259.54" width="12.83" height="108.26" fill="none" stroke="#231f20" stroke-width="1.25"/>
<rect x="620.89" y="309.28" width="12.83" height="58.52" fill="#231f20" stroke="#231f20" stroke-width="1.25"/>
<clipPath id="c16"><rect x="633.72" y="253.69" width="12.83" height="114.11"/></clipPath>
<rect x="633.72" y="253.69" width="12.83" height="114.11" fill="#fff"/>
<g clip-path="url(#c16)" stroke="#231f20" stroke-width="1.4" fill="none"><path d="M633.72 231.71L646.55 220.29M633.72 220.29L646.55 231.71"/><path d="M633.72 243.51L646.55 232.09M633.72 232.09L646.55 243.51"/><path d="M633.72 255.31L646.55 243.89M633.72 243.89L646.55 255.31"/><path d="M633.72 267.11L646.55 255.69M633.72 255.69L646.55 267.11"/><path d="M633.72 278.91L646.55 267.49M633.72 267.49L646.55 278.91"/><path d="M633.72 290.71L646.55 279.29M633.72 279.29L646.55 290.71"/><path d="M633.72 302.51L646.55 291.09M633.72 291.09L646.55 302.51"/><path d="M633.72 314.31L646.55 302.89M633.72 302.89L646.55 314.31"/><path d="M633.72 326.11L646.55 314.69M633.72 314.69L646.55 326.11"/><path d="M633.72 337.91L646.55 326.49M633.72 326.49L646.55 337.91"/><path d="M633.72 349.71L646.55 338.29M633.72 338.29L646.55 349.71"/><path d="M633.72 361.51L646.55 350.09M633.72 350.09L646.55 361.51"/><path d="M633.72 373.31L646.55 361.89M633.72 361.89L646.55 373.31"/><path d="M633.72 385.11L646.55 373.69M633.72 373.69L646.55 385.11"/><path d="M633.72 396.91L646.55 385.49M633.72 385.49L646.55 396.91"/><path d="M633.72 408.71L646.55 397.29M633.72 397.29L646.55 408.71"/></g>
<rect x="633.72" y="253.69" width="12.83" height="114.11" fill="none" stroke="#231f20" stroke-width="1.25"/>
<rect x="646.55" y="283.97" width="12.83" height="83.83" fill="#231f20" stroke="#231f20" stroke-width="1.25"/>
<path d="M588.81 211.26V231.74M586.41 211.26H591.21M586.41 231.74H591.21" stroke="#231f20" stroke-width="1.35" fill="none"/>
<text x="588.81" y="206.06" font-size="12.4" text-anchor="middle">a</text>
<path d="M601.64 284.41V301.97M599.25 284.41H604.04M599.25 301.97H604.04" stroke="#231f20" stroke-width="1.35" fill="none"/>
<text x="602.44" y="281.41" font-size="12.4" text-anchor="middle">f</text>
<path d="M614.47 251.49V267.58M612.07 251.49H616.87M612.07 267.58H616.87" stroke="#231f20" stroke-width="1.35" fill="none"/>
<text x="615.27" y="248.49" font-size="12.4" text-anchor="middle">b</text>
<path d="M627.3 306.35V312.21M624.9 306.35H629.7M624.9 312.21H629.7" stroke="#231f20" stroke-width="1.35" fill="none"/>
<text x="628.1" y="301.65" font-size="12.4" text-anchor="middle">g</text>
<path d="M640.13 244.18V263.2M637.74 244.18H642.53M637.74 263.2H642.53" stroke="#231f20" stroke-width="1.35" fill="none"/>
<text x="640.93" y="241.18" font-size="12.4" text-anchor="middle">b</text>
<path d="M652.96 275.19V292.75M650.56 275.19H655.36M650.56 292.75H655.36" stroke="#231f20" stroke-width="1.35" fill="none"/>
<text x="653.76" y="272.19" font-size="12.4" text-anchor="middle">e</text>
<path d="M428.5 187.6H684.3" stroke="#8a8a8a" stroke-width="1.3" fill="none"/>
<path d="M428.5 187.2V367.8H684.3V187.2" stroke="#231f20" stroke-width="1.2" fill="none" stroke-linejoin="miter"/>
<text transform="translate(424.5 370.7) scale(1.045 1)" font-size="12.6" text-anchor="end">0</text>
<path d="M429 331.23H432.3" stroke="#555" stroke-width="0.8"/>
<text transform="translate(424.5 334.12) scale(1.045 1)" font-size="12.6" text-anchor="end">25</text>
<path d="M429 294.65H432.3" stroke="#555" stroke-width="0.8"/>
<text transform="translate(424.5 297.55) scale(1.045 1)" font-size="12.6" text-anchor="end">50</text>
<path d="M429 258.07H432.3" stroke="#555" stroke-width="0.8"/>
<text transform="translate(424.5 260.97) scale(1.045 1)" font-size="12.6" text-anchor="end">75</text>
<path d="M429 221.5H432.3" stroke="#555" stroke-width="0.8"/>
<text transform="translate(424.5 224.4) scale(1.045 1)" font-size="12.6" text-anchor="end">100</text>
<text transform="translate(385.6 202.7) scale(1.060 1)" font-size="16.2" text-anchor="start">d</text>
<text transform="translate(372.9 277.8) rotate(-90)" font-size="17" text-anchor="middle">Relative root elongation</text>
<text transform="translate(393.2 277.8) rotate(-90)" font-size="17" text-anchor="middle" textLength="98.5" lengthAdjust="spacingAndGlyphs">(% of control)</text>
<rect x="503.6" y="192.1" width="22.8" height="10.3" fill="#fff" stroke="#231f20" stroke-width="1.25"/>
<text x="529.8" y="200.8" font-size="10.2" text-anchor="start">CK</text>
<rect x="503.6" y="205.7" width="22.8" height="10.3" fill="#d1d3d4" stroke="#231f20" stroke-width="1.25"/>
<text x="529.8" y="214.4" font-size="10.2" text-anchor="start">Al</text>
<rect x="503.6" y="219.3" width="22.8" height="10.3" fill="#fff" stroke="#231f20" stroke-width="1.25"/>
<path d="M504.6 229.6L515.6 219.3M516.1 229.6L526.6 219.3" stroke="#231f20" stroke-width="1.35" fill="none"/>
<text x="529.8" y="228" font-size="10.2" text-anchor="start">ACC</text>
<rect x="597.6" y="192.1" width="22.8" height="10.3" fill="#231f20" stroke="#231f20" stroke-width="1.25"/>
<text x="623.8" y="200.8" font-size="10.2" text-anchor="start">ACC+Al</text>
<rect x="596.9" y="205.7" width="22.8" height="10.3" fill="#fff" stroke="#231f20" stroke-width="1.25"/>
<path d="M597.4 205.7L608.6 216M597.4 216L608.6 205.7M608.6 205.7L619.8 216M608.6 216L619.8 205.7" stroke="#231f20" stroke-width="1.35" fill="none"/>
<text x="623.1" y="214.4" font-size="10.2" text-anchor="start">Al+Put</text>
<rect x="595.9" y="219.3" width="22.8" height="10.3" fill="#231f20" stroke="#231f20" stroke-width="1.25"/>
<text x="622.1" y="228" font-size="10.2" text-anchor="start">ACC+Al+Put</text>
<text transform="translate(491.99 385.7) scale(1.134 1)" font-size="13.8" text-anchor="middle">Yangmai-5</text>
<text transform="translate(620.49 385.7) scale(1.115 1)" font-size="13.8" text-anchor="middle">Xi Aimai-1</text>
</g>
</g>
</svg>
</body>
</html>
